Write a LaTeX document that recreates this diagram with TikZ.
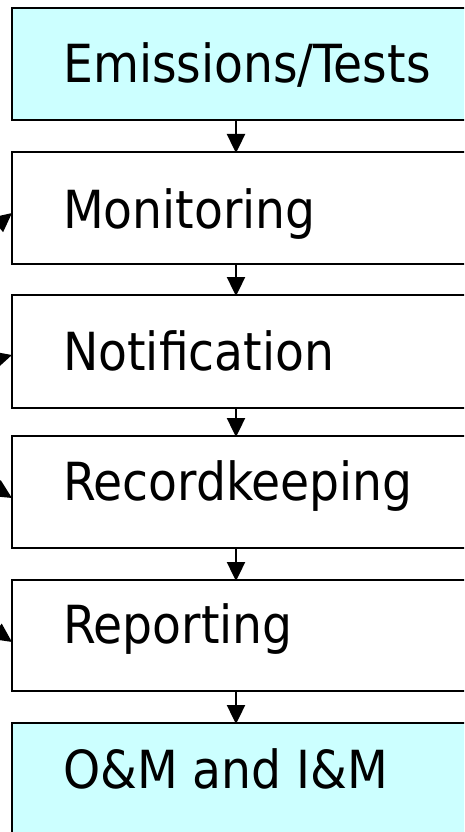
\documentclass[tikz,border=0pt]{standalone}
\usepackage{fontspec}
\setmainfont{DejaVu Sans Condensed}
\usetikzlibrary{arrows.meta}
\definecolor{lightcyan}{RGB}{204,255,255}
\begin{document}
\begin{tikzpicture}[x=1pt,y=-1pt,
  stage/.style={draw=black,line width=2.6pt},
  cyanbox/.style={stage,fill=lightcyan},
  whitebox/.style={stage,fill=white},
  lbl/.style={anchor=base west,inner sep=0pt,font=\fontsize{52.5}{52.5}\selectfont},
  flow/.style={line width=2.4pt,-{Triangle[width=18pt,length=19pt]}},
  back/.style={line width=2.4pt,-{Triangle[width=18pt,length=19pt]}}]
\useasboundingbox (0,0) rectangle (464,832);
\begin{scope}
\clip (0,0) rectangle (464,832);
\draw[cyanbox] (12,8) rectangle (480,120);
\draw[whitebox] (12,152) rectangle (480,264);
\draw[whitebox] (12,295) rectangle (480,408);
\draw[whitebox] (12,436) rectangle (480,548);
\draw[whitebox] (12,580) rectangle (480,691);
\draw[cyanbox] (12,723) rectangle (480,850);
\node[lbl] (t1) at (63,83) {Emissions/Tests};
\node[lbl] (t2) at (63,228) {Monitoring};
\node[lbl] (t3) at (63,370) {Notification};
\node[lbl] (t4) at (63,500) {Recordkeeping};
\node[lbl] (t5) at (63,643) {Reporting};
\node[lbl] (t6) at (63,788) {O\&M and I\&M};
\coordinate (b1) at (236,120); \coordinate (a2) at (236,153);
\coordinate (b2) at (236,264); \coordinate (a3) at (236,296);
\coordinate (b3) at (236,408); \coordinate (a4) at (236,437);
\coordinate (b4) at (236,548); \coordinate (a5) at (236,581);
\coordinate (b5) at (236,691); \coordinate (a6) at (236,724);
\draw[flow] (b1) -- (a2);
\draw[flow] (b2) -- (a3);
\draw[flow] (b3) -- (a4);
\draw[flow] (b4) -- (a5);
\draw[flow] (b5) -- (a6);
\coordinate (l2) at (12,213); \coordinate (s2) at (-14,234);
\coordinate (l3) at (12,355); \coordinate (s3) at (-16,363);
\coordinate (l4) at (12,498); \coordinate (s4) at (-14,482);
\coordinate (l5) at (12,642); \coordinate (s5) at (-14,624);
\draw[back] (s2) -- (l2);
\draw[back] (s3) -- (l3);
\draw[back] (s4) -- (l4);
\draw[back] (s5) -- (l5);
\end{scope}
\end{tikzpicture}
\end{document}
